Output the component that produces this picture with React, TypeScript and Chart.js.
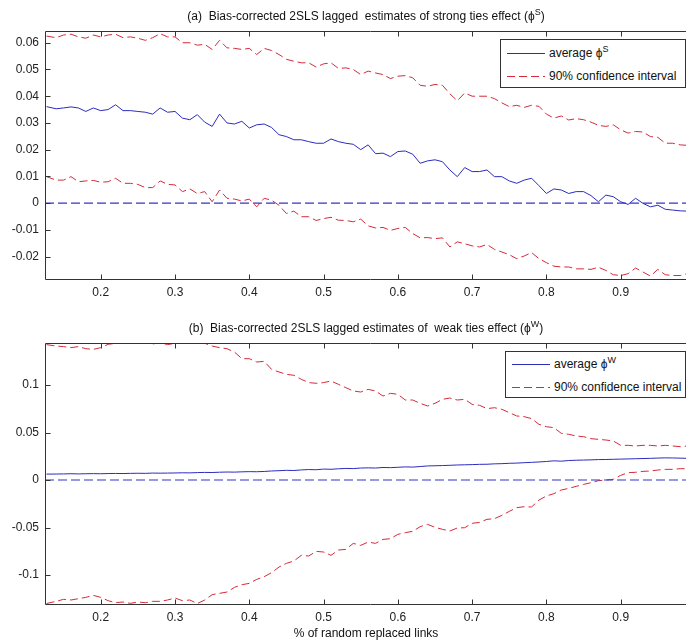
import React, { useEffect, useRef } from 'react';
import { Chart, registerables } from 'chart.js';

Chart.register(...registerables);

const FONT = '"Liberation Sans", Arial, Helvetica, sans-serif';
const BLUE = '#2b2bc0';
const ZERO_BLUE = '#3535c8';
const RED = '#d42a3a';
const AXIS = '#333333';

// shared x grid: share of randomly replaced links
const xs = [
  0.127, 0.14, 0.15, 0.16, 0.17, 0.18, 0.19, 0.2, 0.21, 0.22,
  0.23, 0.24, 0.25, 0.26, 0.27, 0.28, 0.29, 0.3, 0.31, 0.32,
  0.33, 0.34, 0.35, 0.36, 0.37, 0.38, 0.39, 0.4, 0.41, 0.42,
  0.43, 0.44, 0.45, 0.46, 0.47, 0.48, 0.49, 0.5, 0.51, 0.52,
  0.53, 0.54, 0.55, 0.56,
  0.57, 0.58, 0.59, 0.6, 0.61, 0.62, 0.63, 0.64, 0.65, 0.66,
  0.67, 0.68, 0.69, 0.7, 0.71, 0.72, 0.73, 0.74, 0.75, 0.76,
  0.77, 0.78, 0.79, 0.8, 0.81, 0.82, 0.83, 0.84, 0.85, 0.86,
  0.87, 0.88, 0.89, 0.9, 0.91, 0.92, 0.93, 0.94, 0.95, 0.96,
  0.97, 0.98, 0.99,
];

// (a) strong ties
const strongAvg = [
  0.0361, 0.0353, 0.0356, 0.0360, 0.0356, 0.0343, 0.0356, 0.0346, 0.0350, 0.0368,
  0.0346, 0.0346, 0.0343, 0.0340, 0.0333, 0.0356, 0.0340, 0.0343, 0.0318, 0.0312,
  0.0331, 0.0303, 0.0287, 0.0333, 0.0300, 0.0296, 0.0306, 0.0281, 0.0293, 0.0296,
  0.0283, 0.0256, 0.0249, 0.0237, 0.0237, 0.0230, 0.0224, 0.0224, 0.0240, 0.0230,
  0.0224, 0.0220, 0.0200, 0.0218,
  0.0185, 0.0187, 0.0174, 0.0193, 0.0195, 0.0183, 0.0149, 0.0158, 0.0162, 0.0155,
  0.0124, 0.0099, 0.0133, 0.0118, 0.0118, 0.0124, 0.0099, 0.0099, 0.0083, 0.0074,
  0.0086, 0.0093, 0.0065, 0.0036, 0.0053, 0.0049, 0.0036, 0.0043, 0.0043, 0.0028,
  0.0005, 0.0030, 0.0024, 0.0005, -0.0005, 0.0018, -0.0001, -0.0014, -0.0008, -0.0023,
  -0.0026, -0.0029, -0.0030,
];
const strongUpper = [
  0.0625, 0.0619, 0.0629, 0.0632, 0.0622, 0.0617, 0.0629, 0.0622, 0.0629, 0.0632,
  0.0619, 0.0622, 0.0617, 0.0609, 0.0619, 0.0634, 0.0622, 0.0622, 0.0600, 0.0600,
  0.0591, 0.0594, 0.0575, 0.0609, 0.0581, 0.0579, 0.0575, 0.0579, 0.0556, 0.0579,
  0.0571, 0.0556, 0.0538, 0.0531, 0.0525, 0.0525, 0.0509, 0.0521, 0.0525, 0.0504,
  0.0506, 0.0500, 0.0481, 0.0494,
  0.0487, 0.0481, 0.0466, 0.0475, 0.0477, 0.0469, 0.0441, 0.0437, 0.0444, 0.0441,
  0.0409, 0.0383, 0.0412, 0.0400, 0.0400, 0.0400, 0.0391, 0.0375, 0.0361, 0.0366,
  0.0358, 0.0366, 0.0362, 0.0333, 0.0318, 0.0326, 0.0311, 0.0316, 0.0312, 0.0303,
  0.0291, 0.0287, 0.0293, 0.0274, 0.0262, 0.0268, 0.0266, 0.0249, 0.0246, 0.0224,
  0.0224, 0.0218, 0.0216,
];
const strongLower = [
  0.0099, 0.0086, 0.0086, 0.0099, 0.0080, 0.0083, 0.0085, 0.0078, 0.0080, 0.0093,
  0.0074, 0.0074, 0.0070, 0.0058, 0.0058, 0.0083, 0.0070, 0.0068, 0.0043, 0.0053,
  0.0036, 0.0043, 0.0005, 0.0049, 0.0018, 0.0015, 0.0008, 0.0015, -0.0014, 0.0018,
  0.0011, -0.0008, -0.0039, -0.0030, -0.0051, -0.0051, -0.0065, -0.0058, -0.0053, -0.0064,
  -0.0065, -0.0070, -0.0060, -0.0085,
  -0.0093, -0.0091, -0.0102, -0.0095, -0.0091, -0.0114, -0.0130, -0.0129, -0.0133, -0.0130,
  -0.0164, -0.0145, -0.0152, -0.0160, -0.0164, -0.0155, -0.0173, -0.0183, -0.0193, -0.0208,
  -0.0198, -0.0185, -0.0208, -0.0223, -0.0236, -0.0239, -0.0239, -0.0246, -0.0246, -0.0248,
  -0.0240, -0.0252, -0.0268, -0.0271, -0.0264, -0.0243, -0.0258, -0.0273, -0.0248, -0.0268,
  -0.0271, -0.0271, -0.0264,
];

// (b) weak ties
const weakAvg = [
  0.0062, 0.0063, 0.0064, 0.0066, 0.0064, 0.0066, 0.0067, 0.0066, 0.0068, 0.0069,
  0.0068, 0.0070, 0.0071, 0.0070, 0.0073, 0.0072, 0.0073, 0.0074, 0.0076, 0.0075,
  0.0078, 0.0080, 0.0079, 0.0082, 0.0084, 0.0083, 0.0086, 0.0088, 0.0087, 0.0090,
  0.0095, 0.0098, 0.0102, 0.0100, 0.0106, 0.0110, 0.0108, 0.0115, 0.0113, 0.0118,
  0.0122, 0.0120, 0.0126, 0.0128,
  0.0126, 0.0132, 0.0130, 0.0134, 0.0138, 0.0136, 0.0142, 0.0148, 0.0150, 0.0152,
  0.0155, 0.0158, 0.0160, 0.0162, 0.0165, 0.0166, 0.0170, 0.0172, 0.0176, 0.0178,
  0.0182, 0.0186, 0.0190, 0.0195, 0.0202, 0.0198, 0.0205, 0.0208, 0.0210, 0.0212,
  0.0215, 0.0216, 0.0218, 0.0220, 0.0222, 0.0224, 0.0226, 0.0228, 0.0231, 0.0233,
  0.0232, 0.0230, 0.0228,
];
const weakUpper = [
  0.1425, 0.1410, 0.1404, 0.1393, 0.1404, 0.1382, 0.1375, 0.1393, 0.1428, 0.1439,
  0.1439, 0.1439, 0.1439, 0.1439, 0.1432, 0.1446, 0.1425, 0.1439, 0.1446, 0.1439,
  0.1446, 0.1439, 0.1410, 0.1393, 0.1382, 0.1347, 0.1277, 0.1277, 0.1242, 0.1249,
  0.1165, 0.1137, 0.1112, 0.1102, 0.1060, 0.1025, 0.1018, 0.1025, 0.1042, 0.1007,
  0.0972, 0.0937, 0.0926, 0.0954,
  0.0937, 0.0884, 0.0912, 0.0902, 0.0842, 0.0842, 0.0807, 0.0779, 0.0807, 0.0849,
  0.0863, 0.0842, 0.0849, 0.0796, 0.0786, 0.0751, 0.0761, 0.0744, 0.0709, 0.0674,
  0.0667, 0.0646, 0.0586, 0.0561, 0.0551, 0.0491, 0.0481, 0.0463, 0.0456, 0.0435,
  0.0428, 0.0421, 0.0411, 0.0365, 0.0365, 0.0358, 0.0365, 0.0365, 0.0358, 0.0365,
  0.0358, 0.0351, 0.0358,
];
const weakLower = [
  -0.1300, -0.1277, -0.1256, -0.1263, -0.1249, -0.1235, -0.1214, -0.1235, -0.1270, -0.1291,
  -0.1284, -0.1298, -0.1284, -0.1291, -0.1277, -0.1277, -0.1263, -0.1242, -0.1270, -0.1263,
  -0.1300, -0.1263, -0.1207, -0.1193, -0.1179, -0.1130, -0.1102, -0.1088, -0.1046, -0.1018,
  -0.0975, -0.0916, -0.0877, -0.0853, -0.0793, -0.0800, -0.0751, -0.0758, -0.0793, -0.0737,
  -0.0730, -0.0667, -0.0688, -0.0653,
  -0.0667, -0.0625, -0.0618, -0.0572, -0.0554, -0.0540, -0.0491, -0.0467, -0.0498, -0.0519,
  -0.0537, -0.0505, -0.0502, -0.0456, -0.0446, -0.0414, -0.0407, -0.0372, -0.0330, -0.0291,
  -0.0281, -0.0284, -0.0211, -0.0168, -0.0144, -0.0105, -0.0088, -0.0067, -0.0046, -0.0028,
  -0.0007, 0.0000, 0.0007, 0.0049, 0.0077, 0.0081, 0.0091, 0.0095, 0.0105, 0.0112,
  0.0112, 0.0119, 0.0119,
];

// horizontal zero reference
const zeroX = [0.125, 1.0];
const zeroY = [0, 0];

const xMin = 0.125;
const xMax = 1.0;

const fmt = (v: number | string) => {
  const n = Math.round(Number(v) * 10000) / 10000;
  return n === 0 ? '0' : String(n);
};

const boxTicksPlugin = {
  id: 'boxTicks',
  afterDatasetsDraw(chart: any) {
    const { ctx, chartArea, scales } = chart;
    const l = Math.round(chartArea.left) + 0.5;
    const r = Math.round(chartArea.right) + 0.5;
    const t = Math.round(chartArea.top) + 0.5;
    const b = Math.round(chartArea.bottom) + 0.5;
    ctx.save();
    ctx.strokeStyle = AXIS;
    ctx.lineWidth = 1;
    ctx.setLineDash([]);
    ctx.beginPath();
    ctx.rect(l, t, r - l, b - t);
    const len = 5;
    scales.x.ticks.forEach((tk: any) => {
      const px = Math.round(scales.x.getPixelForValue(tk.value)) + 0.5;
      ctx.moveTo(px, b);
      ctx.lineTo(px, b - len);
      ctx.moveTo(px, t);
      ctx.lineTo(px, t + len);
    });
    scales.y.ticks.forEach((tk: any) => {
      const py = Math.round(scales.y.getPixelForValue(tk.value)) + 0.5;
      ctx.moveTo(l, py);
      ctx.lineTo(l + len, py);
      ctx.moveTo(r, py);
      ctx.lineTo(r - len, py);
    });
    ctx.stroke();
    ctx.restore();
  },
};

type PanelProps = {
  top: number;
  height: number;
  padTop: number;
  xAxisH: number;
  yMin: number;
  yMax: number;
  yStep: number;
  avg: number[];
  upper: number[];
  lower: number[];
};

function Panel(p: PanelProps) {
  const ref = useRef<HTMLCanvasElement | null>(null);
  useEffect(() => {
    if (!ref.current) return;
    const pts = (arr: number[]) => xs.map((x, i) => ({ x, y: arr[i] }));
    const tickFont = { family: FONT, size: 12 };
    const chart = new Chart(ref.current, {
      type: 'line',
      data: {
        datasets: [
          {
            label: 'zero',
            data: zeroX.map((x, i) => ({ x, y: zeroY[i] })),
            borderColor: ZERO_BLUE,
            borderDash: [9, 4],
            borderWidth: 1.2,
            pointRadius: 0,
          },
          {
            label: 'upper',
            data: pts(p.upper),
            borderColor: RED,
            borderDash: [8, 4],
            borderWidth: 1,
            pointRadius: 0,
          },
          {
            label: 'lower',
            data: pts(p.lower),
            borderColor: RED,
            borderDash: [8, 4],
            borderWidth: 1,
            pointRadius: 0,
          },
          {
            label: 'average',
            data: pts(p.avg),
            borderColor: BLUE,
            borderWidth: 1,
            pointRadius: 0,
          },
        ],
      } as any,
      options: {
        animation: false,
        responsive: false,
        maintainAspectRatio: false,
        layout: { padding: { top: p.padTop, right: 5, left: 0, bottom: 0 } },
        plugins: {
          legend: { display: false },
          tooltip: { enabled: false },
          title: { display: false },
        },
        elements: { line: { tension: 0 } },
        scales: {
          x: {
            type: 'linear',
            min: xMin,
            max: xMax,
            grid: { display: false, drawTicks: false },
            border: { display: false },
            ticks: {
              stepSize: 0.1,
              includeBounds: false,
              padding: 6,
              autoSkip: false,
              maxRotation: 0,
              color: '#222',
              font: tickFont,
              callback: (v: any) => fmt(v),
            },
            afterFit: (s: any) => {
              s.height = p.xAxisH;
            },
            afterBuildTicks: (s: any) => {
              s.ticks = s.ticks.filter((t: any) => t.value < 0.95);
            },
          },
          y: {
            type: 'linear',
            min: p.yMin,
            max: p.yMax,
            grid: { display: false, drawTicks: false },
            border: { display: false },
            ticks: {
              stepSize: p.yStep,
              includeBounds: false,
              padding: 6,
              color: '#222',
              font: tickFont,
              callback: (v: any) => fmt(v),
            },
            afterFit: (s: any) => {
              s.width = 45;
            },
          },
        },
      } as any,
      plugins: [boxTicksPlugin],
    });
    return () => chart.destroy();
  }, []);
  return (
    <canvas
      ref={ref}
      width={700}
      height={p.height}
      style={{ position: 'absolute', left: 0, top: p.top, width: 700, height: p.height }}
    />
  );
}

const textBase: React.CSSProperties = {
  position: 'absolute',
  fontFamily: FONT,
  fontSize: 12,
  lineHeight: '14px',
  color: '#111',
  whiteSpace: 'pre',
};

const supStyle: React.CSSProperties = {
  fontSize: 9,
  position: 'relative',
  top: -5,
};

function Legend(props: { left: number; top: number; width: number; height: number; row1: number; row2: number; sup: string }) {
  const { left, top, width, height, row1, row2, sup } = props;
  return (
    <div
      style={{
        position: 'absolute',
        left,
        top,
        width,
        height,
        border: `1px solid ${AXIS}`,
        background: '#fff',
        boxSizing: 'border-box',
      }}
    >
      <svg width={40} height={height} style={{ position: 'absolute', left: 6, top: -1 }}>
        <line x1={0} x2={38} y1={row1 + 0.5} y2={row1 + 0.5} stroke={BLUE} strokeWidth={1} />
        <line x1={0} x2={38} y1={row2 + 0.5} y2={row2 + 0.5} stroke={RED} strokeWidth={1} strokeDasharray="8 4" />
      </svg>
      <div style={{ ...textBase, left: 48, top: row1 - 8 }}>
        average ϕ<span style={supStyle}>{sup}</span>
      </div>
      <div style={{ ...textBase, left: 48, top: row2 - 8 }}>90% confidence interval</div>
    </div>
  );
}

export default function App() {
  return (
    <div
      style={{
        position: 'absolute',
        left: 0,
        top: 0,
        width: 686,
        height: 644,
        overflow: 'hidden',
        background: '#fff',
      }}
    >
      <Panel
        top={0}
        height={300}
        padTop={31}
        xAxisH={21}
        yMin={-0.0284}
        yMax={0.0644}
        yStep={0.01}
        avg={strongAvg}
        upper={strongUpper}
        lower={strongLower}
      />
      <Panel
        top={310}
        height={334}
        padTop={33}
        xAxisH={40}
        yMin={-0.1305}
        yMax={0.1442}
        yStep={0.05}
        avg={weakAvg}
        upper={weakUpper}
        lower={weakLower}
      />
      <div style={{ ...textBase, left: 0, width: 732, textAlign: 'center', top: 9 }}>
        (a)  Bias-corrected 2SLS lagged  estimates of strong ties effect (ϕ<span style={supStyle}>S</span>)
      </div>
      <div style={{ ...textBase, left: 0, width: 732, textAlign: 'center', top: 321 }}>
        (b)  Bias-corrected 2SLS lagged estimates of  weak ties effect (ϕ<span style={supStyle}>W</span>)
      </div>
      <div style={{ ...textBase, left: 0, width: 732, textAlign: 'center', top: 626 }}>
        % of random replaced links
      </div>
      <Legend left={500} top={39} width={186} height={49} row1={14} row2={37} sup="S" />
      <Legend left={505} top={351} width={181} height={47} row1={13} row2={36} sup="W" />
    </div>
  );
}
